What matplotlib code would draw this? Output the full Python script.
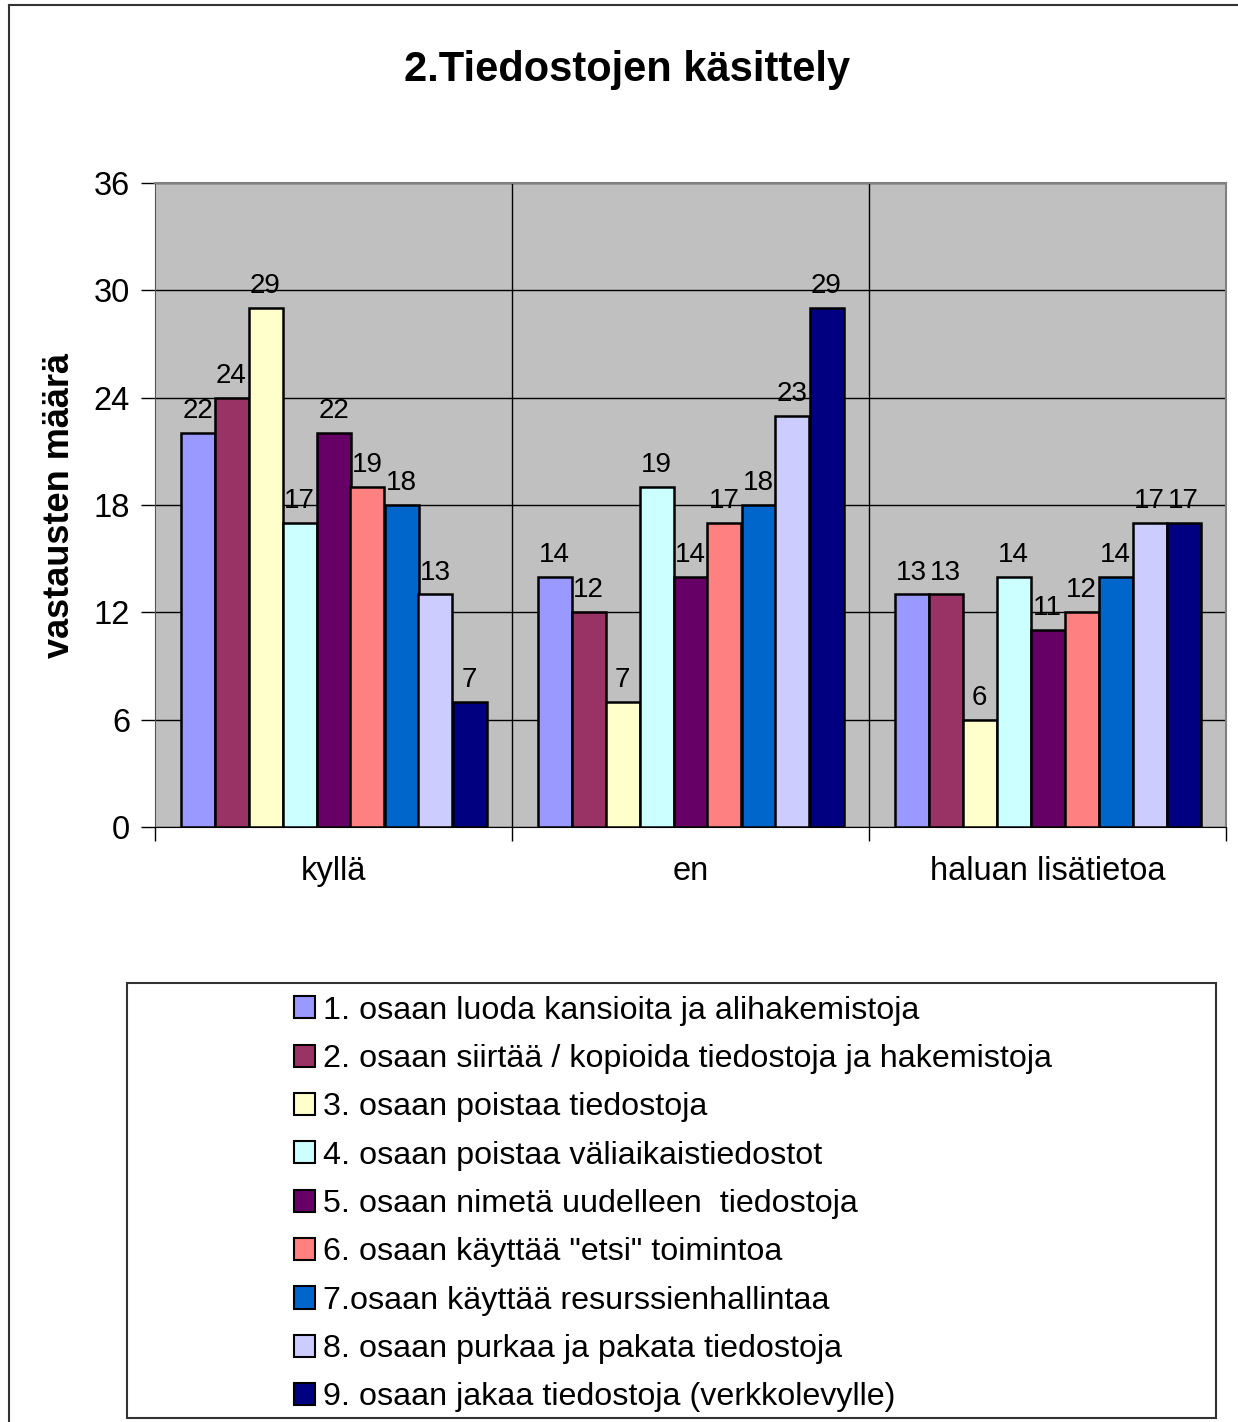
import numpy as np
import matplotlib.pyplot as plt
from matplotlib.lines import Line2D
from matplotlib.patches import Rectangle, Patch

plt.rcParams["font.family"] = ["Liberation Sans", "DejaVu Sans"]

categories = ["kyllä", "en", "haluan lisätietoa"]
series = [
    "1. osaan luoda kansioita ja alihakemistoja",
    "2. osaan siirtää / kopioida tiedostoja ja hakemistoja",
    "3. osaan poistaa tiedostoja",
    "4. osaan poistaa väliaikaistiedostot",
    "5. osaan nimetä uudelleen  tiedostoja",
    "6. osaan käyttää \"etsi\" toimintoa",
    "7.osaan käyttää resurssienhallintaa",
    "8. osaan purkaa ja pakata tiedostoja",
    "9. osaan jakaa tiedostoja (verkkolevylle)",
]
kylla = [22, 24, 29, 17, 22, 19, 18, 13, 7]
en = [14, 12, 7, 19, 14, 17, 18, 23, 29]
haluan = [13, 13, 6, 14, 11, 12, 14, 17, 17]
yticks = [0, 6, 12, 18, 24, 30, 36]

colors = ["#9999FF", "#993366", "#FFFFCC", "#CCFFFF", "#660066",
          "#FF8080", "#0066CC", "#CCCCFF", "#000080"]

values = np.array([kylla, en, haluan])  # rows: categories, cols: series

W, H = 1238, 1422
fig = plt.figure(figsize=(W / 100, H / 100), dpi=100)

# outer chart border (left and top edges visible)
fig.add_artist(Line2D([9 / W, 9 / W], [0, 1 - 5 / H], color="#333333", lw=1.5,
                      transform=fig.transFigure))
fig.add_artist(Line2D([9 / W, 1], [1 - 5 / H, 1 - 5 / H], color="#333333", lw=1.5,
                      transform=fig.transFigure))

ax = fig.add_axes([155 / W, 1 - 827 / H, (1226 - 155) / W, (827 - 183) / H])
ax.set_facecolor("#C0C0C0")

n = len(series)
group_w = 306 / 357
bar_w = group_w / n
centers = np.arange(len(categories)) + 0.5

for j in range(n):
    xs = centers - group_w / 2 + (j + 0.5) * bar_w
    ax.bar(xs, values[:, j], width=bar_w, color=colors[j], edgecolor="black",
           linewidth=1.8, zorder=3)
    for x, v in zip(xs, values[:, j]):
        ax.text(x, v + 0.5, str(v), ha="center", va="bottom", fontsize=20, zorder=4)

ax.set_xlim(0, 3)
ax.set_ylim(0, 36)
ax.set_yticks(yticks)
ax.set_xticks([0, 1, 2, 3])
ax.set_xticklabels([])
ax.set_xticks(centers, minor=True)
ax.set_xticklabels(categories, minor=True, fontsize=23.5)
ax.tick_params(axis="x", which="minor", length=0, pad=21)
ax.tick_params(axis="x", which="major", length=10, width=1, color="black")
ax.tick_params(axis="y", length=10, width=1, labelsize=23.5, pad=8)

ax.grid(axis="y", color="black", linewidth=1, zorder=1)
for xv in [1, 2]:
    ax.axvline(xv, color="black", linewidth=1, zorder=1)
for side in ["top", "right"]:
    ax.spines[side].set_color("#808080")
    ax.spines[side].set_linewidth(1.5)
ax.spines["left"].set_color("#555555")
ax.spines["bottom"].set_color("black")

ax.set_ylabel("vastausten määrä", fontsize=26, fontweight="bold", labelpad=12)
fig.text(627 / W, 1 - 70 / H, "2.Tiedostojen käsittely", ha="center", va="center",
         fontsize=30, fontweight="bold")

# legend frame
fig.add_artist(Rectangle((127 / W, 1 - 1418 / H), (1216 - 127) / W, (1418 - 983) / H,
                         transform=fig.transFigure, fill=False, edgecolor="#333333",
                         linewidth=1.5))
handles = [Patch(facecolor=c, edgecolor="black", linewidth=1.5) for c in colors]
fig.legend(handles, series, loc="center", bbox_to_anchor=(673 / W, 1 - 1204 / H),
           frameon=False, fontsize=23.2, handlelength=0.68, handleheight=0.68,
           handletextpad=0.25, labelspacing=0.57, borderpad=0)

fig.savefig("out.png", dpi=100)
